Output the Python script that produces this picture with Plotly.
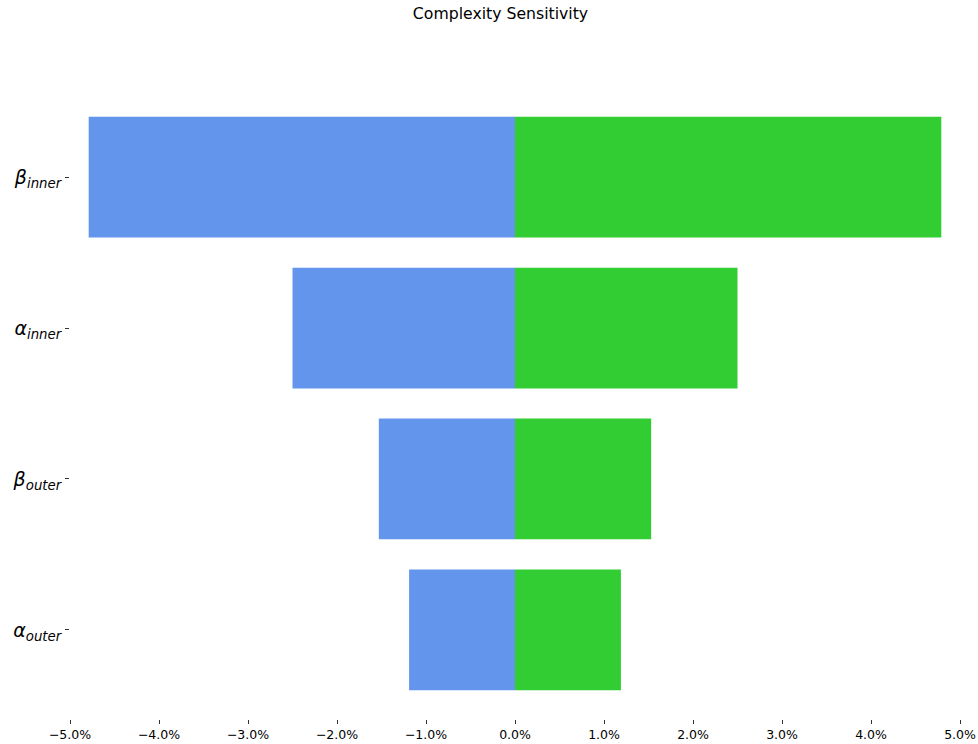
import plotly.graph_objects as go

# Parameters, bottom to top
params = ["<i>α</i><sub><i>outer</i></sub>", "<i>β</i><sub><i>outer</i></sub>",
          "<i>α</i><sub><i>inner</i></sub>", "<i>β</i><sub><i>inner</i></sub>"]
low_change = [-1.19, -1.53, -2.50, -4.79]   # % change, low setting
high_change = [1.19, 1.53, 2.50, 4.79]      # % change, high setting

tick_vals = [-5, -4, -3, -2, -1, 0, 1, 2, 3, 4, 5]
tick_text = ["−5.0%", "−4.0%", "−3.0%", "−2.0%", "−1.0%", "0.0%",
             "1.0%", "2.0%", "3.0%", "4.0%", "5.0%"]

fig = go.Figure()
fig.add_trace(go.Bar(y=params, x=low_change, base=0, orientation="h",
                     marker=dict(color="#6495ED", line=dict(width=0)), width=0.8))
fig.add_trace(go.Bar(y=params, x=high_change, base=0, orientation="h",
                     marker=dict(color="#32CD32", line=dict(width=0)), width=0.8))

fig.update_layout(
    width=978, height=744,
    margin=dict(l=70, r=18, t=88, b=25),
    plot_bgcolor="white", paper_bgcolor="white",
    barmode="overlay", showlegend=False,
    font=dict(family="DejaVu Sans", color="black"),
    title=dict(text="Complexity Sensitivity", x=500.5 / 978, xanchor="center",
               y=1 - 13.5 / 744, yanchor="middle",
               font=dict(size=15.7, family="DejaVu Sans", color="black")),
)
fig.update_xaxes(range=[-5, 5], tickvals=tick_vals, ticktext=tick_text,
                 automargin=False,
                 showgrid=False, zeroline=False, showline=False,
                 ticks="outside", ticklen=4, tickwidth=1, tickcolor="#333",
                 tickfont=dict(size=12.5, family="DejaVu Sans", color="black"))
fig.update_yaxes(type="category", range=[-0.59, 3.59], automargin=False,
                 showgrid=False, zeroline=False, showline=False,
                 ticks="outside", ticklen=4, tickwidth=1, tickcolor="#333",
                 tickfont=dict(size=19, family="DejaVu Sans", color="black"))

fig.write_html("out.html")
